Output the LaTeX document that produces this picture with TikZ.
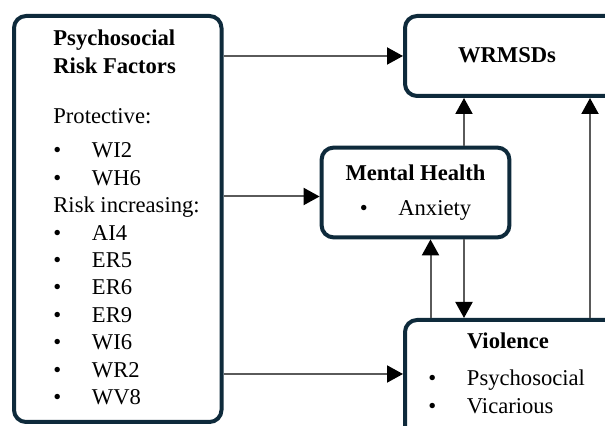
\documentclass[tikz,border=0pt]{standalone}
\usepackage{fontspec}
\setmainfont{Liberation Serif}
\usetikzlibrary{arrows.meta,positioning}
\definecolor{boxc}{HTML}{0E2A3B}
\definecolor{linec}{HTML}{5A5A5A}
\newcommand{\blt}[1]{\makebox[19.3pt][l]{\textbullet}#1}

\begin{document}
\begin{tikzpicture}[x=1pt,y=-1pt,shp/.style={draw=boxc,line width=2pt,rounded corners=6pt,anchor=north west,inner sep=0pt,align=center,font=\fontsize{11.3}{13.7}\selectfont},txt/.style={inner sep=0pt,align=left,font=\fontsize{11.3}{13.7}\selectfont},arr/.style={draw=linec,line width=1pt,-{Triangle[length=8pt,width=8.5pt,color=black]}}]
\useasboundingbox (0,0) rectangle (302.5,213);
\clip (0,0) rectangle (302.5,213);
\node[shp,minimum width=103.75pt,minimum height=203pt] (psy) at (6,7) {};
\node[shp,minimum width=115pt,minimum height=40pt] (wr) at (201.5,7) {};
\node[shp,minimum width=93.9pt,minimum height=44.9pt] (mh) at (159.8,72.8) {\textbf{Mental Health}\\[3.8pt]\blt{Anxiety}};
\node[shp,minimum width=115pt,minimum height=75pt] (vi) at (201.5,159) {};
\node[txt,below right=7.85pt and 20.5pt of psy.north west] (psyt) {\textbf{Psychosocial}\\\textbf{Risk Factors}\\[11.65pt]Protective:\\[3.3pt]\blt{WI2}\\\blt{WH6}\\Risk increasing:\\\blt{AI4}\\\blt{ER5}\\\blt{ER6}\\\blt{ER9}\\\blt{WI6}\\\blt{WR2}\\\blt{WV8}};
\node[txt,font=\fontsize{11.3}{13.7}\selectfont\bfseries] (wrt) at ([xshift=52pt,yshift=-20.75pt]wr.north west) {WRMSDs};
\node[txt,below right=7.4pt and 12.5pt of vi.north west] (vit) {\hspace*{19.3pt}\textbf{Violence}\\[4.8pt]\blt{Psychosocial}\\\blt{Vicarious}};
\coordinate (mhin) at ([yshift=-2pt]mh.west);
\coordinate (viin) at ([yshift=10.5pt]vi.west);
\coordinate (mhup) at ([xshift=24.25pt]mh.north);
\coordinate (mhdn) at ([xshift=24.25pt]mh.south);
\coordinate (mhbt) at ([xshift=7.5pt]mh.south);
\coordinate (rgt) at ([xshift=93.5pt]vi.north west);
\draw[arr] (psy.east |- wr.west) -- (wr.west);
\draw[arr] (psy.east |- mhin) -- (mhin);
\draw[arr] (psy.east |- viin) -- (viin);
\draw[arr] (mhup) -- (mhup |- wr.south);
\draw[arr] (mhdn) -- (mhdn |- vi.north);
\draw[arr] (mhbt |- vi.north) -- (mhbt);
\draw[arr] (rgt) -- (rgt |- wr.south);
\end{tikzpicture}
\end{document}
